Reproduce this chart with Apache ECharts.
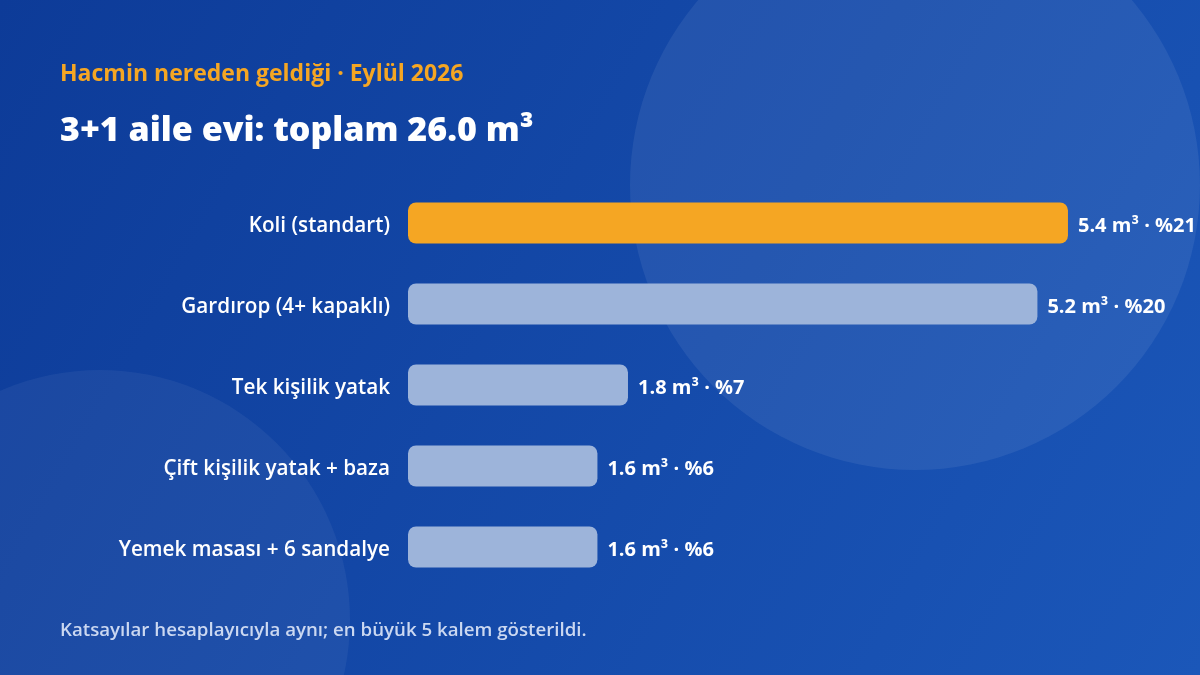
<!DOCTYPE html>
<html>
<head>
<meta charset="utf-8">
<title>Hacmin nereden geldiği</title>
<script src="https://cdn.jsdelivr.net/npm/echarts@6/dist/echarts.min.js"></script>
<style>
  html, body { margin: 0; padding: 0; }
  #main { width: 1200px; height: 675px; }
</style>
</head>
<body>
<div id="main"></div>
<script>
// Data
var categories = ['Koli (standart)', 'Gardırop (4+ kapaklı)', 'Tek kişilik yatak', 'Çift kişilik yatak + baza', 'Yemek masası + 6 sandalye'];
var volumes = [5.4, 5.15, 1.8, 1.55, 1.55];
var totalVolume = 26.0;
var highlightIndex = 0;

var FONT = '"Open Sans", "Noto Sans", sans-serif';

function fmtVolume(v) {
  return (Math.round(v * 10 + 1e-9) / 10).toFixed(1);
}

function renderChart() {
  var myChart = echarts.init(document.getElementById('main'));

  var barData = volumes.map(function (v, i) {
    return {
      value: v,
      itemStyle: { color: i === highlightIndex ? '#f5a623' : '#9db4da' }
    };
  });

  var option = {
    backgroundColor: new echarts.graphic.LinearGradient(0, 0, 1, 1, [
      { offset: 0, color: '#0d3b98' },
      { offset: 1, color: '#1b57b9' }
    ]),
    graphic: [
      {
        type: 'circle',
        shape: { cx: 915, cy: 185, r: 285 },
        style: { fill: 'rgba(255,255,255,0.07)' },
        z: -1
      },
      {
        type: 'circle',
        shape: { cx: 100, cy: 620, r: 250 },
        style: { fill: 'rgba(255,255,255,0.05)' },
        z: -1
      }
    ],
    title: [
      {
        text: 'Hacmin nereden geldiği · Eylül ' + 2026,
        left: 55,
        top: 58,
        textStyle: { color: '#f5a623', fontSize: 23, fontWeight: 700, fontFamily: FONT }
      },
      {
        text: '3+1 aile evi: toplam ' + totalVolume.toFixed(1) + ' m³',
        left: 55,
        top: 109,
        textStyle: { color: '#ffffff', fontSize: 34, fontWeight: 800, fontFamily: FONT }
      },
      {
        text: 'Katsayılar hesaplayıcıyla aynı; en büyük ' + categories.length + ' kalem gösterildi.',
        left: 55,
        top: 616,
        textStyle: { color: '#cbd8f1', fontSize: 18.7, fontWeight: 600, fontFamily: FONT }
      }
    ],
    grid: {
      left: 408,
      right: 58.7,
      top: 182.5,
      bottom: 87.5,
      containLabel: false
    },
    xAxis: {
      type: 'value',
      min: 0,
      max: 6,
      show: false
    },
    yAxis: {
      type: 'category',
      data: categories,
      inverse: true,
      axisLine: { show: false },
      axisTick: { show: false },
      axisLabel: {
        margin: 18,
        formatter: function (v) { return '{c|' + v + '}'; },
        rich: {
          c: {
            color: '#ffffff',
            fontSize: 20.7,
            fontWeight: 600,
            fontFamily: FONT,
            padding: [6, 0, 0, 0]
          }
        }
      }
    },
    series: [
      {
        type: 'bar',
        data: barData,
        barWidth: 41,
        itemStyle: { borderRadius: 8 },
        label: {
          show: true,
          position: 'right',
          distance: 10,
          offset: [0, 3],
          color: '#ffffff',
          fontSize: 20,
          fontWeight: 700,
          fontFamily: FONT,
          formatter: function (p) {
            var pct = Math.round(p.value / totalVolume * 100);
            return fmtVolume(p.value) + ' m³ · %' + pct;
          }
        },
        silent: true
      }
    ],
    animation: false
  };

  myChart.setOption(option);
}

renderChart();
</script>
</body>
</html>
